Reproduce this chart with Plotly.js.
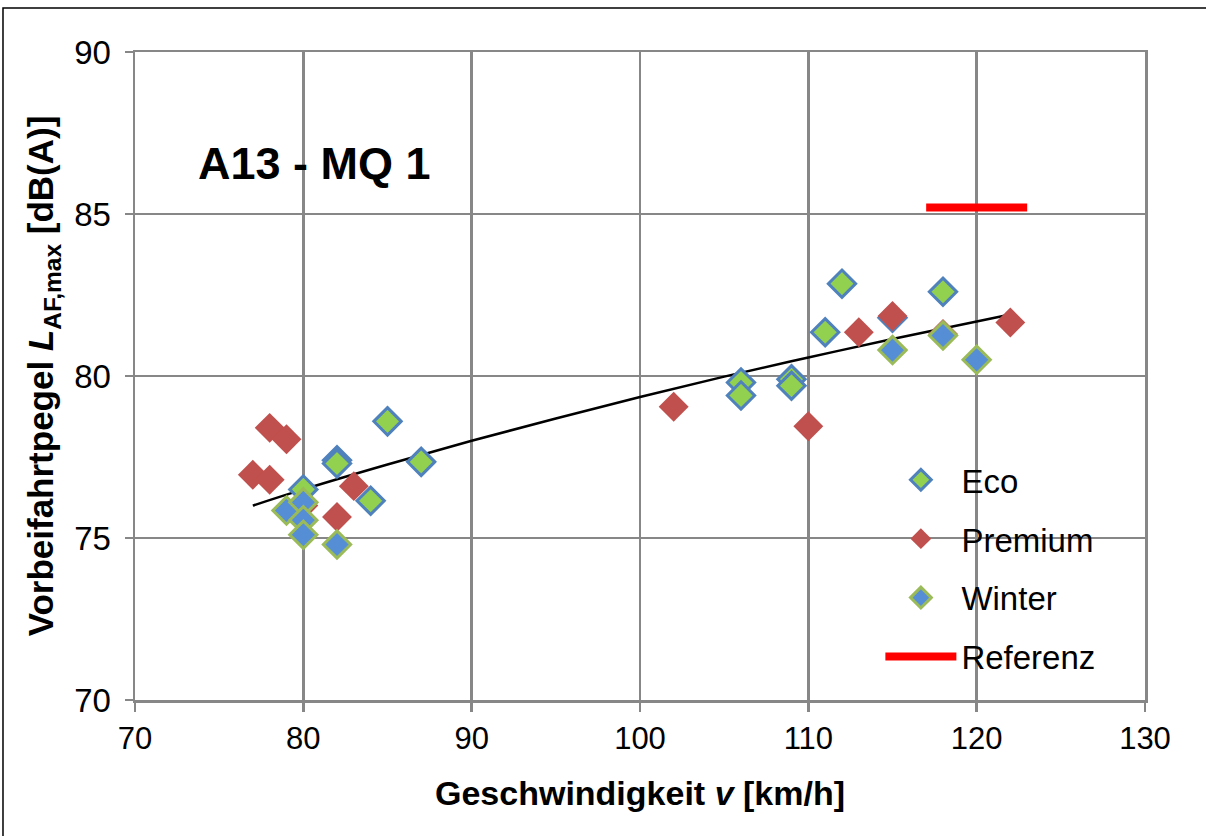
<!DOCTYPE html>
<html>
<head>
<meta charset="utf-8">
<script src="https://cdn.plot.ly/plotly-3.0.1.min.js"></script>
<style>html,body{margin:0;padding:0;background:#fff;}#chart{width:1206px;height:836px;}</style>
</head>
<body>
<div id="chart"></div>
<script>
// Data
const ecoSpeed = [85, 82, 82, 87, 84, 80, 106, 106, 109, 109, 112, 111, 115, 118];
const ecoLevel = [78.6, 77.4, 77.3, 77.35, 76.15, 76.5, 79.8, 79.4, 79.9, 79.7, 82.85, 81.35, 81.8, 82.6];

const premiumSpeed = [78, 79, 77, 78, 83, 82, 80, 102, 110, 113, 115, 118, 122];
const premiumLevel = [78.4, 78.05, 76.95, 76.8, 76.6, 75.65, 76.0, 79.05, 78.45, 81.35, 81.85, 81.3, 81.65];

const winterSpeed = [79, 80, 80, 80, 82, 115, 118, 120];
const winterLevel = [75.85, 76.1, 75.55, 75.1, 74.8, 80.8, 81.25, 80.5];

const referenzSpeed = [117, 123];
const referenzLevel = [85.2, 85.2];

const trendSpeed = [77, 80, 85, 90, 95, 100, 105, 110, 115, 122];
const trendLevel = [76.0, 76.5, 77.27, 78.0, 78.69, 79.35, 79.98, 80.57, 81.14, 81.9];

const xTicks = [70, 80, 90, 100, 110, 120, 130];
const yTicks = [70, 75, 80, 85, 90];

const FONT = 'Arial, "Liberation Sans", sans-serif';
const GRID = '#878787';

const traces = [
  {
    x: trendSpeed, y: trendLevel, type: 'scatter', mode: 'lines',
    line: {color: '#000000', width: 2.5, shape: 'spline'},
    showlegend: false, hoverinfo: 'skip'
  },
  {
    name: 'Eco', x: ecoSpeed, y: ecoLevel, type: 'scatter', mode: 'markers',
    marker: {symbol: 'diamond', size: 21, color: '#92D050', line: {color: '#4F81BD', width: 3}},
    legendgroup: 'a'
  },
  {
    name: 'Premium', x: premiumSpeed, y: premiumLevel, type: 'scatter', mode: 'markers',
    marker: {symbol: 'diamond', size: 23, color: '#C0504D', line: {width: 0}},
    legendgroup: 'b'
  },
  {
    name: 'Winter', x: winterSpeed, y: winterLevel, type: 'scatter', mode: 'markers',
    marker: {symbol: 'diamond', size: 21, color: '#558ED5', line: {color: '#9BBB59', width: 3}},
    legendgroup: 'c'
  },
  {
    name: 'Referenz', x: referenzSpeed, y: referenzLevel, type: 'scatter', mode: 'lines',
    line: {color: '#FF0000', width: 8},
    legendgroup: 'd'
  }
];

const layout = {
  width: 1206, height: 836,
  paper_bgcolor: '#ffffff', plot_bgcolor: '#ffffff',
  margin: {l: 135, r: 61, t: 52, b: 136},
  font: {family: FONT, color: '#000000'},
  showlegend: true,
  legend: {
    x: 0.738, y: 0.383, xanchor: 'left', yanchor: 'top',
    bgcolor: 'rgba(0,0,0,0)', borderwidth: 0,
    font: {family: FONT, size: 33, color: '#000000'},
    traceorder: 'grouped', tracegroupgap: 13, itemwidth: 71
  },
  xaxis: {
    range: [70, 130], tickvals: xTicks, ticktext: xTicks.map(String),
    showgrid: true, gridcolor: GRID, gridwidth: 2.5,
    showline: true, linecolor: GRID, linewidth: 2.5, mirror: true,
    ticks: 'outside', ticklen: 9, tickwidth: 2.5, tickcolor: GRID,
    tickfont: {family: FONT, size: 31, color: '#000000'},
    zeroline: false, fixedrange: true,
    title: {text: '<b>Geschwindigkeit <i>v</i> [km/h]</b>', font: {family: FONT, size: 34, color: '#000000'}, standoff: 27}
  },
  yaxis: {
    range: [70, 90], tickvals: yTicks, ticktext: yTicks.map(String),
    showgrid: true, gridcolor: GRID, gridwidth: 2.5,
    showline: true, linecolor: GRID, linewidth: 2.5, mirror: true,
    ticks: 'outside', ticklen: 8, tickwidth: 2.5, tickcolor: GRID,
    ticklabelstandoff: 7,
    tickfont: {family: FONT, size: 33, color: '#000000'},
    zeroline: false, fixedrange: true,
    title: {text: '<b>Vorbeifahrtpegel <i>L</i><sub>AF,max</sub> [dB(A)]</b>', font: {family: FONT, size: 35, color: '#000000'}, standoff: 10}
  },
  annotations: [
    {
      xref: 'x', yref: 'y', x: 80.64, y: 86.57, xanchor: 'center', yanchor: 'middle',
      text: '<b>A13 - MQ 1</b>', showarrow: false,
      font: {family: FONT, size: 45, color: '#000000'}
    }
  ],
  shapes: [
    {type: 'rect', xref: 'paper', yref: 'paper', x0: 0.706, x1: 0.985, y0: 0.0185, y1: 0.386,
     fillcolor: '#ffffff', line: {width: 0}, layer: 'between'},
    {type: 'rect', xref: 'paper', yref: 'paper', x0: -0.1307, x1: 1.2, y0: -0.4, y1: 1.068,
     fillcolor: 'rgba(0,0,0,0)', line: {color: '#000000', width: 1.5}, layer: 'above'}
  ]
};

Plotly.newPlot('chart', traces, layout, {displayModeBar: false, staticPlot: true});
</script>
</body>
</html>
